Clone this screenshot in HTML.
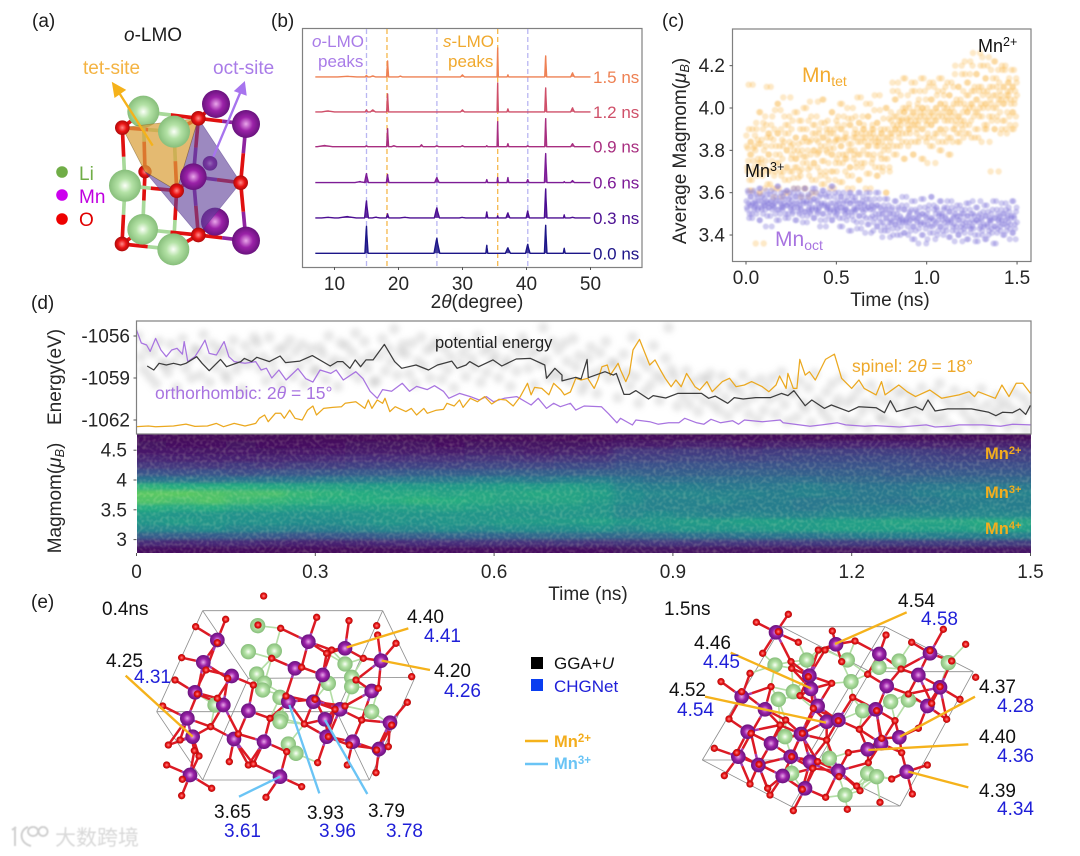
<!DOCTYPE html>
<html lang="en">
<head>
<meta charset="utf-8">
<title>LMO phase transformation figure</title>
<style>
html,body{margin:0;padding:0;background:#fff;}
svg{display:block;font-family:"Liberation Sans","Noto Sans CJK SC",sans-serif;}
.l{font-size:19px;fill:#1c1c1c;}
.t{font-size:19px;fill:#262626;}
.k{font-size:19px;fill:#111;}
.b{font-size:19px;fill:#1f1fd8;}
</style>
</head>
<body>
<svg id="fig" xmlns="http://www.w3.org/2000/svg" width="1080" height="856" viewBox="0 0 1080 856">
<defs>
<radialGradient id="gLi" cx=".5" cy=".5" r=".55"><stop offset="0" stop-color="#fbfff8"/><stop offset=".4" stop-color="#b4e2a6"/><stop offset="1" stop-color="#7fb873"/></radialGradient>
<radialGradient id="gMn" cx=".5" cy=".5" r=".55"><stop offset="0" stop-color="#e9a6ea"/><stop offset=".45" stop-color="#9b22a8"/><stop offset="1" stop-color="#5f1075"/></radialGradient>
<radialGradient id="gO" cx=".5" cy=".5" r=".55"><stop offset="0" stop-color="#ff8a8a"/><stop offset=".5" stop-color="#ea1414"/><stop offset="1" stop-color="#a00808"/></radialGradient>
<clipPath id="clipE"><rect x="137" y="321" width="894" height="113"/></clipPath>
<clipPath id="clipH"><rect x="137" y="434" width="894" height="119"/></clipPath>
<clipPath id="clipC"><rect x="733" y="30" width="298" height="231"/></clipPath>
<filter id="blurH" x="-5%" y="-5%" width="110%" height="110%"><feGaussianBlur stdDeviation="5 1.6"/></filter>
<filter id="soft" x="-5%" y="-5%" width="110%" height="110%"><feGaussianBlur stdDeviation=".35"/></filter>
<filter id="softC" x="-5%" y="-5%" width="110%" height="110%"><feGaussianBlur stdDeviation=".9"/></filter>
<filter id="softE" x="-5%" y="-5%" width="110%" height="110%"><feGaussianBlur stdDeviation="2.6"/></filter>
<filter id="wm" x="-10%" y="-30%" width="120%" height="160%"><feGaussianBlur stdDeviation=".5"/></filter>
<filter id="speckle" x="0" y="0" width="100%" height="100%"><feTurbulence type="fractalNoise" baseFrequency=".3" numOctaves="1" seed="7"/><feColorMatrix type="matrix" values="0 0 0 0 1  0 0 0 0 1  0 0 0 0 .6  2.2 0 0 0 -.95"/></filter>
</defs>

<!-- panel labels -->
<text class="l" x="32" y="27">(a)</text>
<text class="l" x="271" y="27">(b)</text>
<text class="l" x="662" y="27">(c)</text>
<text class="l" x="31" y="309">(d)</text>
<text class="l" x="31" y="608">(e)</text>

<!-- panel a text -->
<g id="panelA" transform="scale(.33333)"></g>
<text class="l" x="124" y="41"><tspan font-style="italic">o</tspan>-LMO</text>
<text x="83" y="74" font-size="19" fill="#f4b342">tet-site</text>
<text x="213" y="74" font-size="19" fill="#a97ce8">oct-site</text>
<circle cx="62" cy="172" r="5.8" fill="#70ad47"/>
<circle cx="62" cy="195" r="5.8" fill="#cc00ee"/>
<circle cx="62" cy="219" r="5.8" fill="#ee0000"/>
<text x="79" y="180" font-size="19" fill="#70ad47">Li</text>
<text x="79" y="203" font-size="19" fill="#c000e0">Mn</text>
<text x="79" y="226" font-size="19" fill="#e00000">O</text>

<!-- panel b -->
<g id="panelB"></g>
<text x="312" y="47" font-size="17" fill="#a97ce8"><tspan font-style="italic">o</tspan>-LMO</text>
<text x="318" y="67" font-size="17" fill="#a97ce8">peaks</text>
<text x="443" y="47" font-size="17" fill="#f0a92e"><tspan font-style="italic">s</tspan>-LMO</text>
<text x="448" y="67" font-size="17" fill="#f0a92e">peaks</text>
<text class="t" x="477" y="308" text-anchor="middle">2<tspan font-style="italic">θ</tspan>(degree)</text>

<!-- panel c -->
<g id="panelC"></g>
<text x="978" y="52" font-size="18" fill="#111">Mn<tspan font-size="12.5" dy="-6">2+</tspan></text>
<text x="745" y="177" font-size="18" fill="#111">Mn<tspan font-size="12.5" dy="-6">3+</tspan></text>
<text x="802" y="82" font-size="21" fill="#f3ab2f">Mn<tspan font-size="14" dy="4">tet</tspan></text>
<text x="775" y="246" font-size="21" fill="#a874e0">Mn<tspan font-size="14" dy="4">oct</tspan></text>
<text class="t" transform="translate(686,151) rotate(-90)" text-anchor="middle">Average Magmom(<tspan font-style="italic">μ</tspan><tspan font-style="italic" font-size="12.5" dy="3">B</tspan><tspan dy="-3">)</tspan></text>
<text class="t" x="890" y="306" text-anchor="middle">Time (ns)</text>

<!-- panel d -->
<g id="panelD"></g>
<text x="435" y="348" font-size="16.5" fill="#222">potential energy</text>
<text x="155" y="399" font-size="17.5" fill="#a874e0">orthorhombic: 2<tspan font-style="italic">θ</tspan> = 15°</text>
<text x="852" y="372" font-size="17.5" fill="#eea92c">spinel: 2<tspan font-style="italic">θ</tspan> = 18°</text>
<text font-size="16.5" font-weight="700" fill="#f3ad1d" x="985" y="459">Mn<tspan font-size="11" dy="-5">2+</tspan></text>
<text font-size="16.5" font-weight="700" fill="#f3ad1d" x="985" y="498">Mn<tspan font-size="11" dy="-5">3+</tspan></text>
<text font-size="16.5" font-weight="700" fill="#f3ad1d" x="985" y="534">Mn<tspan font-size="11" dy="-5">4+</tspan></text>
<text class="t" transform="translate(61,377) rotate(-90)" text-anchor="middle">Energy(eV)</text>
<text class="t" transform="translate(61,498) rotate(-90)" text-anchor="middle">Magmom(<tspan font-style="italic">μ</tspan><tspan font-style="italic" font-size="12.5" dy="3">B</tspan><tspan dy="-3">)</tspan></text>
<text class="t" x="588" y="600" text-anchor="middle">Time (ns)</text>

<!-- panel e -->
<g id="structL" transform="translate(80,590) scale(.33333)"></g>
<g id="structR" transform="translate(640,580) scale(.33333)"></g>

<g>
<text class="k" x="102" y="615">0.4ns</text>
<text class="k" x="407" y="623">4.40</text>
<text class="b" x="424" y="642">4.41</text>
<text class="k" x="434" y="677">4.20</text>
<text class="b" x="444" y="697">4.26</text>
<text class="k" x="106" y="667">4.25</text>
<text class="b" x="134" y="683">4.31</text>
<text class="k" x="214" y="818">3.65</text>
<text class="b" x="224" y="837">3.61</text>
<text class="k" x="307" y="819">3.93</text>
<text class="b" x="319" y="837">3.96</text>
<text class="k" x="368" y="817">3.79</text>
<text class="b" x="386" y="837">3.78</text>
</g>
<g>
<text class="k" x="664" y="615">1.5ns</text>
<text class="k" x="898" y="607">4.54</text>
<text class="b" x="921" y="625">4.58</text>
<text class="k" x="694" y="649">4.46</text>
<text class="b" x="703" y="668">4.45</text>
<text class="k" x="669" y="696">4.52</text>
<text class="b" x="677" y="716">4.54</text>
<text class="k" x="979" y="693">4.37</text>
<text class="b" x="997" y="712">4.28</text>
<text class="k" x="979" y="743">4.40</text>
<text class="b" x="997" y="762">4.36</text>
<text class="k" x="979" y="797">4.39</text>
<text class="b" x="997" y="815">4.34</text>
</g>

<!-- mid legend -->
<rect x="531" y="657" width="12" height="12" fill="#000"/>
<text x="554" y="669" font-size="17" fill="#111">GGA+<tspan font-style="italic">U</tspan></text>
<rect x="531" y="679" width="12" height="12" fill="#0a3ef0"/>
<text x="554" y="692" font-size="17" fill="#1f1fd8">CHGNet</text>
<line x1="525" y1="741" x2="548" y2="741" stroke="#f5b21b" stroke-width="2.4"/>
<line x1="525" y1="764" x2="548" y2="764" stroke="#6ac4f5" stroke-width="2.4"/>
<text x="554" y="747" font-size="16.5" font-weight="700" fill="#f3ad1d">Mn<tspan font-size="11.5" dy="-5">2+</tspan></text>
<text x="554" y="769" font-size="16.5" font-weight="700" fill="#6ac4f5">Mn<tspan font-size="11.5" dy="-5">3+</tspan></text>

<!-- watermark -->
<g filter="url(#wm)" opacity=".7">
<path d="M12 830 L16 827 M15 827 V846 M28 827 C19 830 19 843 31 846 M33 827 a5 4.5 0 1 0 .1 0 M43 827 a4.5 4.5 0 1 0 .1 0" fill="none" stroke="#bdbdbd" stroke-width="2"/>
<text x="55" y="845" font-size="21" fill="#c9c9c9" font-family="&quot;Liberation Sans&quot;,&quot;Noto Sans CJK SC&quot;,sans-serif">大数跨境</text>
</g>
</svg>

<script>
/* ---------- panel b data ---------- */
const xrdLabels = ['0.0 ns','0.3 ns','0.6 ns','0.9 ns','1.2 ns','1.5 ns'];
const xrdColors = ['#1d1488','#4c1092','#7d1a96','#a82e80','#cf5069','#ee8052'];
const xrdOffsets = [0,35.4,70.7,106.6,141.4,176.4];
const xrdPeakPos = [
 [15,26,33.8,37.1,40.2,43,45.9],
 [9,12,15,16.5,18.3,21,26,30,33.8,35.5,37.1,40.2,43,45.9,47.2],
 [14,15,18.3,26,33.8,35.5,37.1,40.2,43,45.9,47.2],
 [8.5,15,18.3,19.3,23.6,26,30,33.8,35.5,37.1,40.2,43,47.2],
 [9,15,16,18.3,30,35.5,37.1,43,47.2],
 [12,15,16,18.3,20.3,30,35.5,37.1,43,47.2]
];
const xrdPeakInt = [
 [27,15,8,5.5,9,28,5],
 [0.6,1.3,17,0.7,4,0.6,10,0.5,6,2,5,7,29,3,0.6],
 [1,9,8,5,3,5,5,3,29,1,2],
 [1.2,1,18,1,2,1,1,1,25,3,1,28,3],
 [1,2,2,18,2,29,3,24,4],
 [0.6,1.5,1,16,0.8,2,29,2,21,4]
];
const xrdPeakWide = [
 [0.25,0.45,0.15,0.4,0.35,0.2,0.15],
 [1,1.4,0.3,0.6,0.2,0.8,0.4,0.5,0.15,0.1,0.3,0.25,0.2,0.12,0.4],
 [0.8,0.3,0.2,0.35,0.15,0.1,0.15,0.2,0.2,0.12,0.3],
 [1.2,0.2,0.15,0.4,0.25,0.3,0.3,0.15,0.1,0.15,0.2,0.15,0.3],
 [1,0.2,0.4,0.15,0.3,0.1,0.15,0.15,0.3],
 [1.5,0.2,0.4,0.15,0.3,0.3,0.1,0.12,0.15,0.3]
];
const xrdTicks = [10,20,30,40,50];
const octGuides = [15,26,40.2];
const spinelGuides = [18.2,35.5];

/* ---------- panel c data: values per 0.05 ns bin ---------- */
const scatterTicksX = [0,0.5,1,1.5];
const scatterTicksY = [3.4,3.6,3.8,4.0,4.2];
const tetValues = [
[3.87,3.72,3.81,4.11,3.66,3.78,3.84,3.61,3.9,3.75,3.7,3.82],
[3.8,3.93,3.68,3.85,3.74,3.98,3.6,3.83,3.76,3.7,3.9,3.36],
[3.72,3.96,3.82,4.1,3.64,3.88,3.78,3.7,3.86,3.92,3.75,3.62],
[3.85,3.68,3.99,3.78,3.62,3.88,4.02,3.74,3.82,3.7,3.9,3.58],
[3.76,4.05,3.84,3.66,3.92,3.72,3.8,3.6,3.88,3.96,3.7,3.82],
[3.9,3.7,3.83,3.62,3.98,3.76,3.86,3.72,3.8,3.67,3.94,3.78],
[3.68,3.94,3.8,3.74,4.0,3.86,3.62,3.77,3.9,3.84,3.71,3.58],
[3.84,3.72,3.96,3.66,3.88,3.8,3.74,3.92,3.6,3.85,3.78,4.03],
[3.79,3.9,3.7,3.82,3.64,4.04,3.86,3.75,3.93,3.68,3.8,3.88],
[3.94,3.74,3.84,3.62,3.88,3.78,3.98,3.7,3.81,3.9,3.66,3.85],
[3.7,3.86,3.96,3.78,3.65,3.9,3.82,4.02,3.74,3.85,3.92,3.76],
[3.88,3.76,4.0,3.68,3.83,3.92,3.72,3.8,3.95,3.62,3.86,3.78],
[3.8,3.96,3.72,3.88,3.84,3.66,3.93,3.78,4.05,3.74,3.86,3.9],
[3.92,3.74,3.86,4.02,3.69,3.82,3.96,3.78,3.88,3.62,3.84,3.9],
[3.76,3.9,3.99,3.72,3.84,3.68,3.93,3.82,3.86,4.06,3.78,3.88],
[3.88,3.7,3.95,3.82,3.76,4.0,3.6,3.86,3.9,3.8,3.72,3.84],
[3.98,3.86,4.12,3.92,3.78,4.04,3.9,3.96,3.82,4.08,3.88,3.94],
[3.9,4.06,3.94,3.84,4.0,3.76,3.98,4.14,3.88,3.95,3.92,3.82],
[4.02,3.9,3.96,3.84,4.08,3.98,3.78,3.92,4.12,3.94,3.88,4.0],
[3.92,4.04,3.86,3.98,4.14,3.9,4.0,3.76,3.96,4.08,3.94,3.84],
[4.0,3.88,4.1,3.96,3.82,4.04,3.92,3.98,4.12,3.86,3.94,3.74],
[3.94,4.06,3.98,3.84,4.14,3.9,4.02,3.8,3.96,4.08,3.88,4.0],
[4.02,3.9,3.96,4.12,3.86,3.98,4.06,3.78,3.94,4.0,3.84,4.1],
[3.98,4.16,3.92,4.04,3.88,3.96,4.1,3.84,4.02,3.94,4.2,3.9],
[4.08,3.94,4.22,4.0,3.88,4.12,3.98,4.06,3.92,4.16,4.02,3.86],
[4.02,4.26,3.96,4.1,3.9,4.04,4.16,3.98,3.86,4.08,4.0,4.2],
[4.1,3.96,4.06,4.2,3.92,4.02,4.14,3.9,4.08,4.0,4.24,3.84],
[4.04,4.18,3.94,4.1,4.0,4.22,3.9,4.06,4.14,3.96,4.02,3.7],
[4.12,3.98,4.06,3.9,4.18,4.02,4.1,3.94,4.2,4.04,3.88,4.08],
[4.06,4.14,3.92,4.04,4.18,3.98,4.1,3.9,4.02,4.08,3.96,4.12]
];
const octValues = [
[3.56,3.52,3.6,3.48,3.54,3.58,3.5,3.55,3.61,3.53],
[3.55,3.5,3.58,3.53,3.62,3.47,3.56,3.52,3.59,3.54],
[3.57,3.52,3.61,3.49,3.55,3.53,3.59,3.56,3.44,3.54],
[3.54,3.6,3.5,3.56,3.52,3.63,3.47,3.58,3.55,3.53],
[3.52,3.58,3.55,3.48,3.61,3.54,3.5,3.57,3.6,3.53],
[3.56,3.5,3.6,3.53,3.47,3.58,3.55,3.62,3.51,3.54],
[3.53,3.59,3.49,3.56,3.62,3.51,3.55,3.46,3.58,3.52],
[3.55,3.5,3.6,3.53,3.57,3.48,3.62,3.52,3.56,3.51],
[3.52,3.58,3.47,3.55,3.61,3.5,3.54,3.59,3.44,3.53],
[3.54,3.49,3.58,3.52,3.63,3.47,3.55,3.51,3.6,3.53],
[3.5,3.56,3.6,3.48,3.53,3.58,3.44,3.55,3.51,3.52],
[3.53,3.47,3.58,3.51,3.6,3.55,3.42,3.49,3.56,3.52],
[3.51,3.56,3.46,3.53,3.6,3.49,3.55,3.43,3.52,3.58],
[3.49,3.55,3.52,3.6,3.45,3.53,3.57,3.48,3.41,3.54],
[3.52,3.46,3.57,3.5,3.54,3.44,3.6,3.48,3.53,3.42],
[3.5,3.46,3.54,3.42,3.52,3.48,3.57,3.44,3.5,3.39],
[3.47,3.52,3.43,3.5,3.56,3.45,3.48,3.4,3.53,3.46],
[3.49,3.44,3.54,3.47,3.41,3.52,3.46,3.58,3.48,3.4],
[3.46,3.51,3.42,3.56,3.48,3.44,3.38,3.52,3.47,3.5],
[3.48,3.43,3.53,3.46,3.4,3.5,3.57,3.45,3.49,3.36],
[3.5,3.45,3.54,3.41,3.48,3.58,3.44,3.47,3.52,3.38],
[3.46,3.52,3.42,3.49,3.56,3.44,3.5,3.47,3.4,3.53],
[3.49,3.44,3.53,3.47,3.39,3.51,3.46,3.56,3.42,3.48],
[3.45,3.5,3.42,3.54,3.47,3.4,3.49,3.44,3.52,3.37],
[3.47,3.43,3.52,3.46,3.38,3.49,3.55,3.44,3.41,3.5],
[3.44,3.5,3.46,3.4,3.53,3.47,3.37,3.49,3.43,3.56],
[3.48,3.42,3.51,3.45,3.38,3.49,3.54,3.44,3.4,3.47],
[3.46,3.5,3.41,3.56,3.44,3.48,3.36,3.52,3.43,3.47],
[3.49,3.44,3.52,3.47,3.4,3.5,3.45,3.55,3.42,3.48],
[3.46,3.51,3.43,3.48,3.56,3.41,3.49,3.45,3.38,3.53]
];

/* ---------- panel d data ---------- */
const timeTicks = [0,0.3,0.6,0.9,1.2,1.5];
const timeTickLabels = ['0','0.3','0.6','0.9','1.2','1.5'];
const energyTicks = [-1056,-1059,-1062];
const magTicks = [4.5,4,3.5,3];
const magTickLabels = ['4.5','4','3.5','3'];

const orthoTimes = [0,.008,.017,.023,.032,.041,.05,.059,.068,.077,.08,.086,.098,.107,.115,.122,.134,.147,.155,.164,.182,.2,.209,.218,.227,.239,.251,.271,.284,.296,.308,.326,.335,.347,.368,.38,.392,.404,.413,.428,.446,.458,.47,.488,.5,.515,.524,.542,.56,.575,.587,.599,.617,.638,.662,.674,.688,.7,.711,.728,.737,.751,.78,.792,.806,.812,.832,.838,.861,.875,.893,.91,.92,.94,.952,.964,.98,1,1.01,1.02,1.05,1.08,1.085,1.13,1.15,1.176,1.19,1.222,1.24,1.28,1.325,1.34,1.365,1.38,1.42,1.45,1.47,1.5];
const orthoEnergy = [-1055.57,-1056.5,-1056.64,-1057.1,-1056.17,-1057,-1057.48,-1057,-1056.88,-1057.3,-1056.4,-1057.83,-1057.48,-1056.88,-1056.3,-1057.24,-1057.36,-1056.4,-1057.48,-1057.83,-1057.95,-1057.83,-1058.43,-1058.3,-1059,-1058.43,-1059.14,-1058.33,-1059.05,-1059.29,-1058.43,-1058.67,-1058.43,-1059.14,-1058.55,-1059.05,-1059.95,-1060.45,-1059.83,-1059.95,-1059.38,-1059.95,-1059.6,-1059.83,-1059.55,-1059.95,-1060.45,-1060.1,-1060.33,-1060.57,-1060.33,-1060.69,-1060.45,-1060.33,-1060.93,-1060.45,-1061.17,-1060.81,-1061.05,-1060.81,-1061.29,-1061,-1061.05,-1061.55,-1062.2,-1061.88,-1062.36,-1062,-1062.12,-1062.3,-1062.2,-1062.2,-1061.88,-1062.2,-1062.3,-1061.95,-1062.2,-1062.05,-1062.3,-1062,-1062.12,-1062,-1062.2,-1062.45,-1062.35,-1062.2,-1062.35,-1062.45,-1062.4,-1062.5,-1062.35,-1062.5,-1062.45,-1062.35,-1062.35,-1062.45,-1062.3,-1062.35];

const spinelTimes = [0,.02,.032,.062,.083,.098,.119,.134,.146,.164,.182,.2,.206,.215,.221,.233,.242,.248,.257,.266,.278,.287,.296,.302,.314,.329,.344,.35,.368,.383,.389,.395,.404,.413,.417,.425,.434,.452,.461,.47,.482,.488,.503,.515,.521,.533,.542,.548,.56,.572,.584,.596,.608,.62,.632,.644,.656,.662,.668,.68,.692,.7,.712,.718,.728,.737,.746,.757,.768,.774,.781,.79,.795,.808,.812,.821,.827,.833,.844,.861,.87,.879,.887,.897,.905,.914,.923,.937,.945,.957,.966,.983,.995,1.006,1.02,1.032,1.05,1.061,1.073,1.079,1.09,1.093,1.102,1.108,1.113,1.122,1.129,1.139,1.156,1.171,1.183,1.2,1.212,1.221,1.241,1.25,1.256,1.279,1.293,1.307,1.331,1.351,1.38,1.397,1.406,1.412,1.441,1.452,1.464,1.476,1.487,1.5];
const spinelEnergy = [-1062.48,-1062.43,-1062.48,-1062.43,-1062.29,-1062.46,-1062.43,-1062.24,-1062.48,-1062.24,-1062.43,-1062.24,-1061.88,-1061.64,-1062.12,-1061.52,-1061.52,-1061.88,-1061.29,-1061.88,-1062,-1061.29,-1061,-1061.64,-1061.17,-1061.1,-1061.05,-1060.81,-1060.69,-1061.17,-1060.57,-1061.17,-1060.57,-1060.81,-1060.45,-1061.4,-1061.05,-1061.4,-1061.17,-1061.64,-1061.17,-1061.52,-1061.3,-1061.24,-1060.81,-1061,-1060.57,-1061.1,-1060.45,-1060.69,-1060.33,-1060.86,-1060.52,-1060.57,-1061,-1060.33,-1059.38,-1060.2,-1059.67,-1059.74,-1060.2,-1059.38,-1059.86,-1060.21,-1060,-1059.02,-1059.14,-1059.02,-1059.74,-1059.14,-1058.19,-1058.07,-1058.79,-1057.95,-1058.43,-1059.26,-1058.67,-1057,-1056.24,-1058.07,-1057.71,-1058.43,-1059.02,-1059.62,-1059.14,-1059.62,-1058.67,-1059.62,-1059.86,-1059.26,-1059.98,-1059.26,-1059.02,-1059.62,-1059.5,-1059.26,-1059.62,-1059.98,-1059.5,-1058.86,-1059.74,-1058.67,-1059.74,-1059.74,-1057.67,-1058.79,-1058.55,-1059.14,-1057.67,-1057.29,-1059.02,-1059.74,-1059.14,-1059.74,-1060.21,-1059.26,-1060.21,-1059.5,-1059.98,-1060.33,-1059.86,-1060.45,-1060.21,-1059.98,-1060.33,-1059.98,-1060.45,-1059.5,-1060.33,-1059.38,-1059.38,-1060.1,-1059.74,-1060.21,-1060.33];

const potentialTimes = [.018,.029,.038,.05,.062,.074,.083,.101,.11,.122,.141,.151,.175,.181,.193,.202,.223,.241,.25,.274,.295,.325,.337,.346,.358,.367,.376,.385,.397,.416,.433,.445,.469,.49,.505,.529,.538,.553,.559,.574,.598,.613,.637,.661,.685,.688,.702,.714,.714,.737,.746,.756,.758,.786,.8,.805,.818,.827,.838,.859,.867,.888,.908,.948,.96,.971,.992,1.003,1.018,1.039,1.064,1.082,1.093,1.103,1.122,1.133,1.154,1.166,1.195,1.212,1.241,1.255,1.265,1.275,1.307,1.319,1.328,1.34,1.361,1.401,1.43,1.442,1.453,1.47,1.482,1.492,1.5];
const potentialEnergy = [-1058.14,-1058.43,-1057.95,-1058.07,-1057.95,-1058.07,-1057.95,-1057.48,-1057.95,-1058.48,-1057.67,-1058.19,-1057.83,-1057.6,-1057.83,-1057.52,-1057.83,-1057.43,-1057.9,-1057.79,-1057.4,-1058.14,-1057.83,-1057.83,-1058.31,-1057.71,-1058.19,-1057.71,-1057.71,-1056.6,-1057.83,-1058.31,-1058.07,-1058.43,-1058.07,-1057.79,-1058.31,-1058.07,-1057.83,-1058.19,-1057.71,-1058.14,-1057.64,-1057.6,-1058.07,-1059.02,-1058.31,-1058.79,-1059.21,-1058.95,-1059.07,-1057.67,-1058.98,-1058.55,-1058.79,-1058.67,-1060.17,-1060.17,-1059.9,-1060.5,-1060.26,-1060.43,-1060.1,-1060.1,-1060.45,-1060.29,-1060.81,-1060.4,-1060.5,-1060.4,-1060.4,-1060.1,-1060.26,-1059.9,-1060.98,-1060.57,-1061.17,-1060.93,-1061.4,-1061.05,-1061.12,-1061.48,-1060.62,-1061.4,-1061.05,-1061.29,-1060.57,-1061.36,-1061.21,-1061.21,-1061.45,-1061.69,-1061.45,-1061.48,-1061.21,-1061.6,-1060.95];

const energyCloud = [
[-1056,-1057.5,-1058.4,-1056.8,-1058.9,-1057.2,-1059.4,-1056.4,-1057.9,-1058.1],
[-1058.6,-1056.6,-1057.9,-1059.7,-1057.2,-1056.2,-1058.3,-1057.6,-1059,-1056.9],
[-1057.1,-1058.8,-1055.9,-1057.7,-1059.3,-1056.6,-1058.2,-1057.3,-1056.9,-1058.7],
[-1059.1,-1057.2,-1056.3,-1058.4,-1057.8,-1059.8,-1056.7,-1058,-1057.4,-1056.1],
[-1056.5,-1058.3,-1057.5,-1059.2,-1056.1,-1057.9,-1058.7,-1057,-1059.5,-1056.8],
[-1057.7,-1056.3,-1058.9,-1057.1,-1058.2,-1056.6,-1059.4,-1057.6,-1056.9,-1058.5],
[-1058.4,-1056.8,-1057.3,-1059.1,-1056,-1058.1,-1057.7,-1059.6,-1056.5,-1057.9],
[-1056.7,-1058.6,-1057.2,-1055.8,-1059,-1057.8,-1056.4,-1058.3,-1057.4,-1059.3],
[-1059.2,-1057.4,-1056.2,-1058.5,-1056.9,-1057.8,-1055.5,-1058.8,-1057.1,-1056.6],
[-1057.3,-1058.7,-1056.5,-1059.4,-1057.8,-1056.1,-1058.2,-1057,-1059,-1056.8],
[-1056.4,-1057.9,-1059.1,-1056.9,-1058.4,-1057.5,-1059.7,-1056.2,-1058,-1057.2],
[-1058.9,-1056.6,-1057.6,-1058.2,-1056,-1059.3,-1057.1,-1058.6,-1056.8,-1057.8],
[-1057.4,-1059,-1056.3,-1058.1,-1057.7,-1059.6,-1056.7,-1058.5,-1057.2,-1056.1],
[-1056.6,-1058.3,-1057.3,-1059.5,-1056.9,-1058,-1055.4,-1057.7,-1059,-1056.4],
[-1058.6,-1057,-1058.9,-1056.5,-1057.8,-1059.2,-1056.2,-1058.2,-1057.4,-1059.9],
[-1059.4,-1057.6,-1056.8,-1058.7,-1060.1,-1057.2,-1058.4,-1056.4,-1059,-1057.9],
[-1058,-1060.4,-1059,-1057.3,-1058.6,-1059.6,-1056.1,-1058.9,-1060.8,-1057.7],
[-1060,-1058.2,-1059.5,-1056.7,-1058.8,-1060.6,-1059.1,-1057.6,-1055.4,-1058.4],
[-1058.9,-1061,-1059.7,-1060.3,-1058.5,-1060.9,-1059.3,-1060.1,-1061.4,-1059],
[-1060.6,-1059.2,-1058.7,-1060.9,-1059.8,-1061.3,-1058.9,-1060.4,-1061.7,-1059.5],
[-1059.6,-1061.1,-1060,-1058.8,-1060.7,-1061.6,-1059.4,-1060.3,-1062,-1059.1],
[-1061.3,-1059.7,-1060.5,-1059,-1061.6,-1060.2,-1058.6,-1060.9,-1062.1,-1059.9],
[-1060.1,-1061.8,-1059.2,-1060.8,-1061.2,-1059.7,-1062.2,-1058.7,-1060.6,-1061],
[-1061.5,-1060,-1062,-1059.4,-1061,-1060.5,-1059,-1061.9,-1060.8,-1062.4],
[-1060.4,-1062.1,-1059.8,-1061.4,-1060.8,-1062.5,-1059.5,-1061.1,-1060.2,-1061.8],
[-1061.9,-1060.6,-1059.6,-1062.3,-1061,-1060.1,-1062.6,-1059.9,-1061.5,-1060.9],
[-1060.3,-1062.2,-1061.2,-1059.7,-1062.6,-1060.8,-1061.6,-1060.1,-1062.1,-1059.4],
[-1061.7,-1060.5,-1062.4,-1061,-1059.9,-1062.7,-1060.7,-1061.4,-1060.2,-1062],
[-1060.6,-1062.3,-1061.3,-1059.8,-1062,-1060.9,-1062.6,-1061.6,-1060.3,-1061.1],
[-1061.9,-1060.7,-1062.5,-1061.2,-1060,-1062.2,-1061.5,-1060.4,-1062.7,-1061]
];

/* column = 0.05 ns bin; entries run from high moment to low moment (count fraction, %) */
const heatValues = [
[3,5,7,11,16,25,38,64,74,72,62,54,52,46,30,12,4],
[2,4,7,10,16,24,38,62,74,70,60,52,54,46,30,11,4],
[2,4,6,10,15,25,36,62,72,72,62,52,52,48,29,12,3],
[2,5,7,10,17,23,38,62,70,68,58,50,50,44,30,12,4],
[2,4,6,11,16,25,38,60,70,66,58,50,50,44,28,11,3],
[2,4,7,11,18,26,38,58,66,64,56,50,48,42,26,10,3],
[2,4,7,12,18,27,40,58,64,62,56,50,48,42,27,10,3],
[2,5,8,13,19,28,40,56,62,62,56,50,50,44,28,11,3],
[2,5,8,13,20,28,40,56,60,62,56,52,52,46,30,12,3],
[2,5,8,14,20,29,40,54,60,64,56,52,50,46,30,13,4],
[2,4,8,14,20,29,40,54,58,62,58,52,52,48,32,13,4],
[2,5,9,15,21,29,42,54,60,60,56,52,52,46,32,14,4],
[2,5,9,15,21,30,42,56,58,58,54,52,54,48,32,14,4],
[2,5,8,14,21,30,40,54,60,58,54,52,54,48,34,14,4],
[2,5,9,15,22,30,42,56,58,58,54,52,54,48,34,15,4],
[2,6,10,16,22,31,42,52,56,54,52,52,56,50,34,14,4],
[3,8,16,20,25,31,38,44,48,48,46,46,52,46,34,15,5],
[3,8,16,20,25,30,36,42,46,44,44,48,52,50,34,16,5],
[3,9,17,21,26,30,36,42,46,44,44,46,54,52,36,16,5],
[3,9,17,21,26,30,36,40,44,46,42,44,54,52,36,16,5],
[3,8,16,20,26,31,36,40,44,42,42,46,56,52,38,16,5],
[3,9,17,21,26,31,36,40,42,42,42,44,56,54,38,16,5],
[3,9,18,22,26,30,36,42,44,40,40,44,54,54,38,17,5],
[3,10,18,22,26,30,34,40,42,40,42,46,56,56,40,18,5],
[3,10,18,22,26,30,34,38,40,40,42,44,56,56,42,18,5],
[3,10,18,22,25,28,33,38,40,38,42,46,58,56,42,18,5],
[3,9,17,21,24,28,34,40,42,40,42,46,58,56,42,18,6],
[3,9,16,20,24,28,34,40,44,42,42,46,58,56,42,18,6],
[3,9,16,20,24,28,34,40,44,42,44,46,60,58,42,18,6],
[3,9,16,20,24,28,34,40,44,42,42,46,58,56,42,18,6]
];

/* ---------- helpers ---------- */
const NS = 'http://www.w3.org/2000/svg';
function mk(parent, tag, attrs, txt){
  const e = document.createElementNS(NS, tag);
  for (const k in attrs) e.setAttribute(k, attrs[k]);
  if (txt !== undefined) e.textContent = txt;
  parent.appendChild(e);
  return e;
}
function axisTick(parent, name, x1, y1, x2, y2){
  const t = mk(parent, 'line', {x1:x1, y1:y1, x2:x2, y2:y2, stroke:'#555', 'stroke-width':1});
  
  
}
function axisLabel(parent, name, x, y, anchor, str){
  const t = mk(parent, 'text', {x:x, y:y, 'text-anchor':anchor, 'class':'t'}, str);
  
  
}
function frame(parent, name, x, y, w, h){
  const f = mk(parent, 'rect', {x:x, y:y, width:w, height:h, fill:'none', stroke:'#808080', 'stroke-width':1.2});
  
  
}

/* ---------- panel b ---------- */
const xB = d => 334.5 + (d - 10) * 6.4;
const yB = v => 253.3 - v;
const pB = document.getElementById('panelB');
frame(pB, 'xrd-frame', 302.5, 28.5, 339.5, 239);
octGuides.concat(spinelGuides).forEach((d, i) => {
  const g = mk(pB, 'line', {x1:xB(d), x2:xB(d), y1:29, y2:267, stroke: i < octGuides.length ? '#b9b6f2' : '#f5b84c', 'stroke-width':1.3, 'stroke-dasharray':'5 3'});
  
  
});
xrdLabels.forEach((lab, s) => {
  let d = 'M' + xB(7) + ' ' + yB(xrdOffsets[s]);
  xrdPeakPos[s].forEach((p, k) => {
    const w = xrdPeakWide[s][k], h = xrdPeakInt[s][k];
    d += 'L' + xB(p - w) + ' ' + yB(xrdOffsets[s]);
    d += 'L' + xB(p - w * 0.2) + ' ' + yB(xrdOffsets[s] + h * 0.85);
    d += 'L' + xB(p) + ' ' + yB(xrdOffsets[s] + h);
    d += 'L' + xB(p + w * 0.2) + ' ' + yB(xrdOffsets[s] + h * 0.7);
    d += 'L' + xB(p + w) + ' ' + yB(xrdOffsets[s]);
  });
  d += 'L' + xB(50) + ' ' + yB(xrdOffsets[s]);
  const c = mk(pB, 'path', {d:d, fill:xrdColors[s], 'fill-opacity':.85, stroke:xrdColors[s], 'stroke-width':1.4, 'stroke-linejoin':'round', filter:'url(#soft)'});
  
  
  const t = mk(pB, 'text', {x:593, y:yB(xrdOffsets[s]) + 6, 'font-size':17, fill:xrdColors[s]}, lab);
  
  
});
xrdTicks.forEach(v => {
  axisTick(pB, 'xrd-x-tick', xB(v), 267, xB(v), 270);
  axisLabel(pB, 'xrd-x-tick-label', xB(v), 290, 'middle', v);
});

/* ---------- panel c ---------- */
const xC = t => 746 + t * 180.7;
const yC = m => 108 - (m - 4.0) * 211.7;
const pC = document.getElementById('panelC');
frame(pC, 'magmom-frame', 732.5, 29, 298.5, 232.5);
const cDots = mk(pC, 'g', {'clip-path':'url(#clipC)'});


const cBlur = mk(cDots, 'g', {filter:'url(#softC)'});


function scatter(parent, name, bins, colour, r, op){
  bins.forEach((vals, i) => vals.forEach((m, j) => {
    const t = 0.05 * i + 0.05 * (j + 0.5) / vals.length;
    const t2 = 0.05 * i + 0.05 * (vals.length - j - 0.1) / vals.length;
    const c = mk(parent, 'circle', {cx:xC(t), cy:yC(m), r:r, fill:colour, 'fill-opacity':op});
    
    
    const c2 = mk(parent, 'circle', {cx:xC(t2), cy:yC(m), r:r, fill:colour, 'fill-opacity':op});
    
    
  }));
}
scatter(cBlur, 'tet-point', tetValues, '#f7ae35', 3.2, .27);
scatter(cBlur, 'oct-point', octValues, '#8478da', 3, .38);
scatterTicksX.forEach(v => {
  axisTick(pC, 'magmom-x-tick', xC(v), 261.5, xC(v), 264.5);
  axisLabel(pC, 'magmom-x-tick-label', xC(v), 284, 'middle', v.toFixed(1));
});
scatterTicksY.forEach(v => {
  axisTick(pC, 'magmom-y-tick', 729.5, yC(v), 732.5, yC(v));
  axisLabel(pC, 'magmom-y-tick-label', 725, yC(v) + 6.5, 'end', v.toFixed(1));
});

/* ---------- panel d ---------- */
const xD = t => 136.5 + t * 596;
const yE = e => 336 + (-1056 - e) * 14;
const yM = m => 480 - (m - 4) * 59.6;
const pD = document.getElementById('panelD');
function viridis(p){
  const st = [[68,1,84],[71,44,122],[59,82,139],[44,114,142],[33,145,140],[39,173,129],[94,201,98],[170,220,50],[253,231,37]];
  const f = Math.min(.9999, p / 100) * (st.length - 1), i = Math.floor(f), u = f - i;
  const c = st[i].map((v, k) => Math.round(v + (st[i + 1][k] - v) * u));
  return 'rgb(' + c.join(',') + ')';
}
const hClip = mk(pD, 'g', {'clip-path':'url(#clipH)'});


const hBlur = mk(hClip, 'g', {filter:'url(#blurH)'});


const magTop = 4.77, magStep = 2 / 17;
heatValues.forEach((col, i) => col.forEach((v, r) => {
  const x0 = xD(i * 0.05) - (i === 0 ? 12 : 0), x1 = xD((i + 1) * 0.05) + (i === heatValues.length - 1 ? 12 : 0);
  const y0 = yM(magTop - r * magStep) - (r === 0 ? 6 : 0), y1 = yM(magTop - (r + 1) * magStep) + (r === col.length - 1 ? 6 : 0);
  const cell = mk(hBlur, 'rect', {x:x0, y:y0, width:x1 - x0 + .5, height:y1 - y0 + .5, fill:viridis(v)});
  
  
}));
const hNoise = mk(hClip, 'rect', {x:137, y:434, width:894, height:119, filter:'url(#speckle)', opacity:.22});


const eClip = mk(pD, 'g', {'clip-path':'url(#clipE)'});


const eDots = mk(eClip, 'g', {filter:'url(#softE)'});


energyCloud.forEach((vals, i) => vals.forEach((e, j) => {
  const t = 0.05 * i + 0.05 * (j + 0.5) / vals.length;
  const c = mk(eDots, 'circle', {cx:xD(t), cy:yE(e), r:5.5, fill:'#8c8c8c', 'fill-opacity':.2});
  
  
}));
function line(parent, name, ts, es, colour){
  let d = '';
  ts.forEach((t, i) => { d += (i ? 'L' : 'M') + xD(t).toFixed(1) + ' ' + yE(es[i]).toFixed(1); });
  const p = mk(parent, 'path', {d:d, fill:'none', stroke:colour, 'stroke-width':1.25, 'stroke-linejoin':'round'});
  
  
}
line(eClip, 'orthorhombic-line', orthoTimes, orthoEnergy, '#a874e0');
line(eClip, 'spinel-line', spinelTimes, spinelEnergy, '#eba81f');
line(eClip, 'potential-energy-line', potentialTimes, potentialEnergy, '#3c3c3c');
frame(pD, 'energy-frame', 136.5, 321, 894.5, 113);
energyTicks.forEach(v => {
  axisTick(pD, 'energy-y-tick', 133.5, yE(v), 136.5, yE(v));
  axisLabel(pD, 'energy-y-tick-label', 130, yE(v) + 6.5, 'end', String(v));
});
magTicks.forEach((v, i) => {
  axisTick(pD, 'magmom-heat-y-tick', 133.5, yM(v), 136.5, yM(v));
  axisLabel(pD, 'magmom-heat-y-tick-label', 127, yM(v) + 6.5, 'end', magTickLabels[i]);
});
timeTicks.forEach((v, i) => {
  axisTick(pD, 'time-x-tick', xD(v), 553, xD(v), 556);
  axisLabel(pD, 'time-x-tick-label', xD(v), 578, 'middle', timeTickLabels[i]);
});

/* ---------- panel a structure ---------- */
const pA = document.getElementById('panelA');
const aBonds = [
[367,383,430,335,'l'],[367,383,522,395,'l'],[367,383,375,557,'l'],[595,355,430,335,'l'],[595,355,522,395,'l'],
[435,515,430,335,'l'],[435,515,428,688,'l'],[530,572,522,395,'l'],[530,572,375,557,'l'],[530,572,520,748,'l'],
[366,732,375,557,'l'],[366,732,428,688,'l'],[366,732,520,748,'l'],[595,705,428,688,'l'],[595,705,520,748,'l'],
[595,355,648,312,'m'],[595,355,738,372,'m'],[595,355,580,530,'m'],[595,705,580,530,'m'],[595,705,645,665,'m'],
[595,705,738,722,'m'],[722,548,580,530,'m'],[722,548,738,372,'m'],[722,548,738,722,'m'],[530,572,580,530,'m']
];
const aBack = [[430,335,48,'Li'],[648,312,42,'Mn'],[645,665,42,'Mn'],[428,688,46,'Li'],[435,515,20,'O'],[630,490,22,'Mn']];
const aFront = [[522,395,48,'Li'],[375,557,48,'Li'],[520,748,48,'Li'],[738,372,42,'Mn'],[580,530,40,'Mn'],[738,722,42,'Mn'],[367,383,22,'O'],[595,355,22,'O'],[530,572,22,'O'],[722,548,22,'O'],[595,705,22,'O'],[366,732,22,'O']];
function atom(parent, x, y, r, type){
  const c = mk(parent, 'circle', {cx:x, cy:y, r:r, fill:'url(#g' + type + ')'});
  
  
}
function bond(parent, x1, y1, x2, y2, colour, w){
  const b = mk(parent, 'line', {x1:x1, y1:y1, x2:x2, y2:y2, stroke:colour, 'stroke-width':w});
  
  
}
aBonds.forEach(b => {
  const mx = (b[0] + b[2]) / 2, my = (b[1] + b[3]) / 2;
  bond(pA, mx, my, b[2], b[3], b[4] === 'l' ? '#a8d99a' : '#8e24a0', 11);
  bond(pA, b[0], b[1], mx, my, '#e01010', 11);
});
aBack.forEach(a => atom(pA, a[0], a[1], a[2], a[3]));
const oct = mk(pA, 'polygon', {points:'595,355 722,548 595,705 435,515 530,572', fill:'#5f4199', 'fill-opacity':.62, stroke:'#4f3288', 'stroke-opacity':.5, 'stroke-width':2});


const tet = mk(pA, 'polygon', {points:'367,383 595,355 530,572 435,515', fill:'#d9a03a', 'fill-opacity':.72, stroke:'#7d5f2a', 'stroke-opacity':.6, 'stroke-width':2});


aFront.forEach(a => atom(pA, a[0], a[1], a[2], a[3]));
const arrowO = mk(pA, 'path', {d:'M458 437 L352 270 M340 252 L372 270 L346 288 Z', fill:'#f5b21b', stroke:'#f5b21b', 'stroke-width':7});


const arrowP = mk(pA, 'path', {d:'M640 470 L724 270 M732 250 L736 282 L708 272 Z', fill:'#a774ee', stroke:'#a774ee', 'stroke-width':7});



/* ---------- panel e structures ---------- */
const leftMn = [[412,150],[685,155],[795,175],[903,212],[370,217],[645,235],[455,258],[728,255],[875,303],[345,307],[625,335],[700,335],[430,345],[505,362],[322,385],[735,388],[780,358],[930,398],[740,440],[338,440],[462,447],[552,455],[818,455],[897,477],[330,555],[600,560]];
const leftO = [[551,18],[437,88],[534,105],[347,110],[602,115],[710,82],[807,92],[890,107],[893,135],[948,160],[755,180],[740,190],[850,205],[305,203],[412,158],[575,205],[665,232],[378,240],[443,265],[828,270],[995,260],[285,270],[520,285],[895,295],[352,312],[412,325],[618,318],[705,328],[795,348],[982,337],[248,348],[765,358],[570,385],[673,402],[392,410],[845,390],[935,405],[475,432],[745,440],[300,450],[265,465],[808,465],[890,480],[925,470],[343,482],[357,498],[620,485],[448,515],[505,525],[520,522],[713,518],[802,525],[888,548],[260,525],[307,568],[395,595],[305,617],[558,622],[665,590]];
const leftLi = [[533,107],[505,185],[583,183],[795,222],[815,262],[530,252],[553,280],[745,280],[548,300],[600,322],[405,345],[875,365],[603,385],[600,395],[625,462],[648,490],[815,290]];
const leftCell = [[368,62,908,62],[908,62,1005,262],[505,265,1005,262],[368,62,505,265],[230,365,770,365],[230,365,368,62],[770,365,908,62],[230,365,368,570],[770,365,868,570],[368,570,868,570],[868,570,1005,262],[368,570,505,265]];
const leftOrange = [[137,257,338,440],[800,172,985,115],[905,212,1050,240]];
const leftBlue = [[600,560,477,620],[628,345,718,610],[735,390,862,612]];
const rightMn = [[408,157],[588,193],[718,222],[870,220],[835,285],[508,287],[740,318],[900,322],[513,327],[305,350],[862,378],[375,388],[533,378],[707,388],[560,425],[595,420],[778,472],[323,455],[483,462],[723,490],[393,490],[683,508],[295,530],[355,555],[452,530],[428,588],[595,573],[800,575],[495,625],[510,545]];
const rightO = [[445,103],[349,127],[415,155],[475,187],[577,153],[645,183],[738,165],[910,148],[815,187],[977,193],[535,210],[555,210],[368,220],[870,212],[935,243],[605,245],[453,245],[455,265],[783,267],[330,280],[683,283],[1007,292],[243,305],[393,320],[305,335],[575,310],[505,290],[900,320],[480,347],[638,352],[805,342],[960,358],[520,385],[595,422],[765,422],[920,418],[267,417],[710,392],[875,370],[437,420],[420,435],[333,460],[487,460],[658,448],[560,480],[725,475],[835,445],[223,505],[290,518],[455,530],[625,518],[785,518],[685,548],[357,553],[533,545],[518,565],[862,555],[253,587],[330,612],[755,597],[597,590],[390,645],[487,628],[650,618],[660,632],[557,652],[720,667],[817,642],[460,692],[622,688],[383,625]];
const rightLi = [[405,255],[500,240],[622,240],[717,262],[777,243],[925,248],[633,305],[460,335],[415,358],[752,365],[805,360],[668,392],[435,470],[568,535],[455,580],[683,580],[710,590],[615,645]];
const rightCell = [[425,140,735,140],[735,140,1000,275],[1000,275,690,275],[690,275,425,140],[187,540,497,540],[497,540,780,678],[780,678,455,680],[455,680,187,540],[425,140,187,540],[735,140,497,540],[1000,275,780,678],[690,275,455,680]];
const rightOrange = [[800,97,585,192],[272,218,513,325],[195,350,558,428],[1005,350,780,470],[985,493,685,510],[985,622,805,575]];
function structure(id, mn, ox, li, cell, orange, blue){
  const g = document.getElementById(id);
  cell.forEach(c => {
    const l = mk(g, 'line', {x1:c[0], y1:c[1], x2:c[2], y2:c[3], stroke:'#8c8c8c', 'stroke-width':2.4});
    
    
  });
  ox.forEach(o => {
    li.forEach(a => {
      const d = Math.hypot(o[0] - a[0], o[1] - a[1]);
      if (d > 6 && d < 82) bond(g, o[0], o[1], a[0], a[1], '#b4dea6', 5);
    });
  });
  ox.forEach(o => {
    mn.forEach(a => {
      const d = Math.hypot(o[0] - a[0], o[1] - a[1]);
      if (d > 6 && d < 100) {
        const mx = o[0] + (a[0] - o[0]) * .65, my = o[1] + (a[1] - o[1]) * .65;
        bond(g, mx, my, a[0], a[1], '#a33bb0', 7.5);
        bond(g, o[0], o[1], mx, my, '#dc1a24', 7.5);
      }
    });
  });
  li.forEach(a => atom(g, a[0], a[1], 23, 'Li'));
  mn.forEach(a => atom(g, a[0], a[1], 22, 'Mn'));
  ox.forEach(a => atom(g, a[0], a[1], 11, 'O'));
  orange.forEach(c => {
    const l = mk(g, 'line', {x1:c[0], y1:c[1], x2:c[2], y2:c[3], stroke:'#f5b21b', 'stroke-width':7});
    
    
  });
  blue.forEach(c => {
    const l = mk(g, 'line', {x1:c[0], y1:c[1], x2:c[2], y2:c[3], stroke:'#6ac4f5', 'stroke-width':7});
    
    
  });
}
structure('structL', leftMn, leftO, leftLi, leftCell, leftOrange, leftBlue);
structure('structR', rightMn, rightO, rightLi, rightCell, rightOrange, []);
</script>
</body>
</html>
